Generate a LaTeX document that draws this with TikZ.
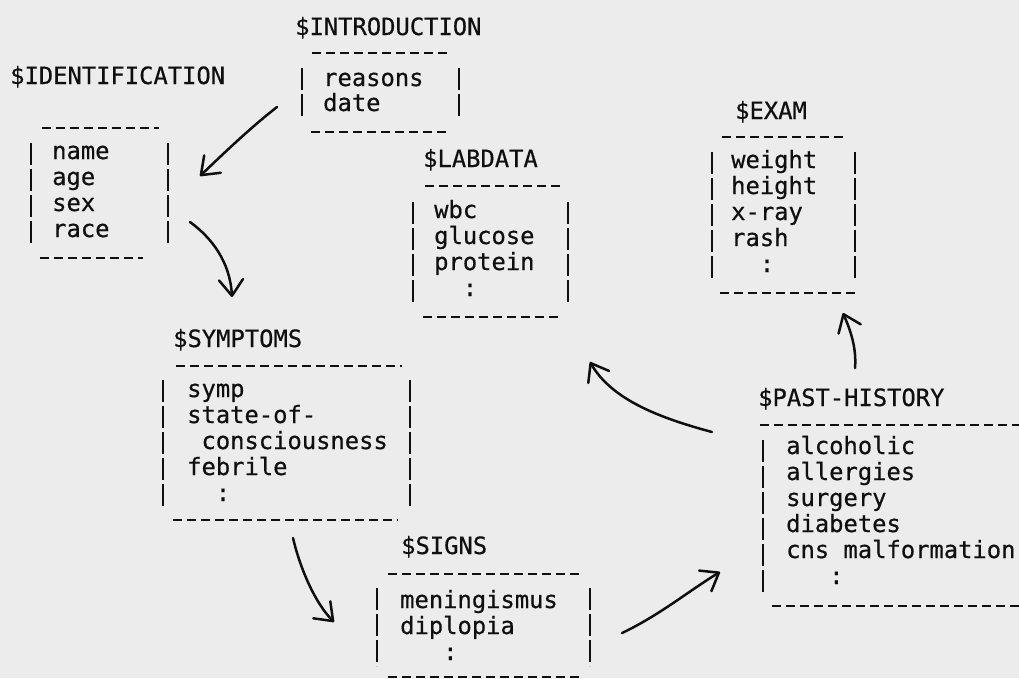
\documentclass[tikz,border=0pt]{standalone}
\usepackage{fontspec}
\newfontfamily\plotfont[FakeBold=0.5]{DejaVu Sans Mono}
\usetikzlibrary{arrows.meta}
\definecolor{paper}{RGB}{236,236,236}
\definecolor{ink}{RGB}{15,15,15}
\tikzset{
  txt/.style={font=\plotfont\fontsize{23.8}{26}\selectfont, text=ink, inner sep=0pt, anchor=base west},
  ttl/.style={txt},
  dashrow/.style={draw=ink, line width=2.9pt, dash pattern=on 9pt off 5pt},
  barcol/.style={draw=ink, line width=2.1pt, dash pattern=on 22pt off 4pt},
  flow/.style={draw=ink, line width=2.5pt, line cap=round,
    -{Straight Barb[length=16pt,width=24pt,round]}},
}
\begin{document}
\begin{tikzpicture}[x=1pt,y=-1pt]
\path[use as bounding box, fill=paper] (0,0) rectangle (1019,678);
\clip (0,0) rectangle (1019,678);

% ---------- $IDENTIFICATION ----------
\node[ttl] (ident-title) at (10,84) {\$IDENTIFICATION};
\draw[dashrow] (42,128) -- (159,128);
\draw[dashrow] (40,258) -- (143,258);
\draw[barcol] (31,143) -- (31,243);
\draw[barcol] (168,143) -- (168,243);
\foreach \l [count=\i] in {name, age, sex, race}
  \node[txt] (ident-\i) at (52,{159+26*(\i-1)}) {\l};

% ---------- $INTRODUCTION ----------
\node[ttl] (intro-title) at (295,35) {\$INTRODUCTION};
\draw[dashrow] (312,53) -- (451,53);
\draw[dashrow] (311,132) -- (450,132);
\draw[barcol] (302,68) -- (302,117);
\draw[barcol] (459,68) -- (459,117);
\foreach \l [count=\i] in {reasons, date}
  \node[txt] (intro-\i) at (323,{86+25*(\i-1)}) {\l};

% ---------- $LABDATA ----------
\node[ttl] (lab-title) at (423,167) {\$LABDATA};
\draw[dashrow] (425,186) -- (562,186);
\draw[dashrow] (423,317) -- (558,317);
\draw[barcol] (413,202) -- (413,302);
\draw[barcol] (568,202) -- (568,302);
\foreach \l [count=\i] in {wbc, glucose, protein, {\phantom{xx}:}}
  \node[txt] (lab-\i) at (434,{218+26*(\i-1)}) {\l};

% ---------- $EXAM ----------
\node[ttl] (exam-title) at (735,119) {\$EXAM};
\draw[dashrow] (722,137) -- (847,137);
\draw[dashrow] (720,293) -- (858,293);
\draw[barcol] (712,152) -- (712,278);
\draw[barcol] (855,152) -- (855,278);
\foreach \l [count=\i] in {weight, height, x-ray, rash, {\phantom{xx}:}}
  \node[txt] (exam-\i) at (731,{168+26*(\i-1)}) {\l};

% ---------- $SYMPTOMS ----------
\node[ttl] (symp-title) at (173,347) {\$SYMPTOMS};
\draw[dashrow] (176,366) -- (402,366);
\draw[dashrow] (173,520) -- (398,520);
\draw[barcol] (163,380) -- (163,506);
\draw[barcol] (410,380) -- (410,506);
\foreach \l [count=\i] in {symp, state-of-, {\phantom{x}consciousness}, febrile, {\phantom{xx}:}}
  \node[txt] (symp-\i) at (187,{397+26*(\i-1)}) {\l};

% ---------- $SIGNS ----------
\node[ttl] (signs-title) at (401,554) {\$SIGNS};
\draw[dashrow] (388,574) -- (582,574);
\draw[dashrow] (388,677) -- (583,677);
\draw[barcol] (377,588) -- (377,666);
\draw[barcol] (590,588) -- (590,666);
\foreach \l [count=\i] in {meningismus, diplopia, {\phantom{xxx}:}}
  \node[txt] (signs-\i) at (400,{608+26*(\i-1)}) {\l};

% ---------- $PAST-HISTORY ----------
\node[ttl] (past-title) at (758,406) {\$PAST-HISTORY};
\draw[dashrow] (760,425) -- (1030,425);
\draw[dashrow] (772,606) -- (1030,606);
\draw[barcol] (763,440) -- (763,592);
\foreach \l [count=\i] in {alcoholic, allergies, surgery, diabetes, cns malformation, {\phantom{xxx}:}}
  \node[txt] (past-\i) at (786,{454+26*(\i-1)}) {\l};

% ---------- connectors ----------
\coordinate (a1s) at (277,107);  \coordinate (a1e) at (200,176);
\coordinate (a2s) at (190,222);  \coordinate (a2e) at (232,297);
\coordinate (a3s) at (293,538);  \coordinate (a3e) at (334,622);
\coordinate (a4s) at (622,633);  \coordinate (a4e) at (720,572);
\coordinate (a5s) at (712,432);  \coordinate (a5e) at (590,362);
\coordinate (a6s) at (855,368);  \coordinate (a6e) at (843,313);

\draw[flow] (a1s) .. controls (250,128) and (222,155) .. (a1e);
\draw[flow] (a2s) .. controls (212,238) and (230,262) .. (a2e);
\draw[flow] (a3s) .. controls (300,568) and (315,603) .. (a3e);
\draw[flow] (a4s) .. controls (660,615) and (690,590) .. (a4e);
\draw[flow] (a5s) .. controls (660,418) and (612,400) .. (a5e);
\draw[flow] (a6s) .. controls (857,345) and (848,325) .. (a6e);
\end{tikzpicture}
\end{document}
